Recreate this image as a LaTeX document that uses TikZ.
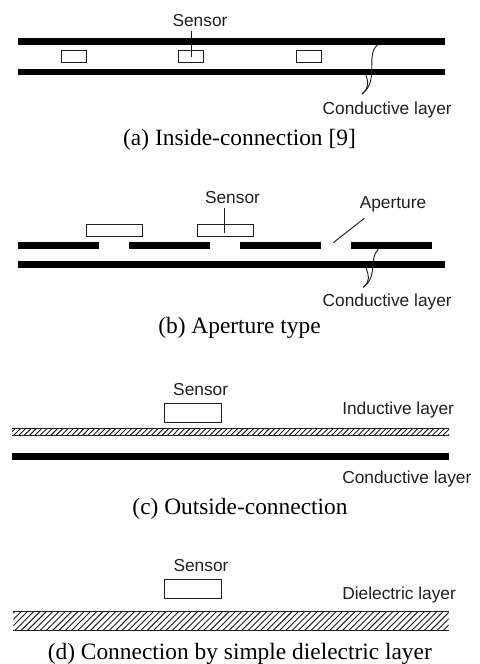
\documentclass[tikz,border=0pt]{standalone}
\usepackage{fontspec}
\setmainfont{Liberation Serif}
\newfontfamily\labelfont{Liberation Sans}
\definecolor{ink}{gray}{0.12}
\tikzset{
  x=0.75pt,y=-0.75pt,
  lab/.style={inner sep=0pt,text=ink,font=\labelfont\fontsize{13}{14}\selectfont},
  captiontext/.style={inner sep=0pt,text=black,font=\fontsize{17.55}{20}\selectfont},
  sensorbox/.style={draw=ink,line width=0.75pt,fill=white,inner sep=0pt,minimum width=#1},
  leader/.style={draw=ink,line width=0.7pt},
  bar/.style={fill=black,draw=none},
  edgeline/.style={draw=ink,line width=0.7pt},
  hatchline/.style={draw=ink,line width=0.7pt}
}
\begin{document}
\begin{tikzpicture}
\useasboundingbox (0,0) rectangle (479,664);
% ---------- (a)
\node[lab] (sa) at (200,20.5) {Sensor};
\node[lab] (ca) at (387.2,110) {Conductive layer};
\node[captiontext] (capa) at (239.5,139.5) {(a) Inside-connection [9]};
\node[sensorbox=19.05pt,minimum height=9.3pt] (a1) at (74,56.5) {};
\node[sensorbox=19.05pt,minimum height=9.3pt] (a2) at (191,56.5) {};
\node[sensorbox=19.05pt,minimum height=9.3pt] (a3) at (308.7,56.5) {};
\coordinate (a2c) at (191,56.5);
\draw[leader] (sa.south -| a2c) ++(0,4) -- (a2c);
\fill[bar] (18,38) rectangle (445,44.7);
\fill[bar] (18,68.7) rectangle (445,75);
\draw[leader] (377.5,45) .. controls (371,50) and (372,60) .. (371.7,70) .. controls (371.5,80) and (370,88) .. (362,94);
\draw[leader] (366,75) .. controls (368,82) and (370,87) .. (362,94);
% ---------- (b)
\node[lab] (sb) at (232.5,197.3) {Sensor};
\node[lab] (ap) at (393,204.5) {Aperture};
\node[lab] (cb) at (387.2,302.5) {Conductive layer};
\node[captiontext] (capb) at (239.5,327.5) {(b) Aperture type};
\node[sensorbox=42pt,minimum height=9.3pt] (b1) at (114.3,230.5) {};
\node[sensorbox=42pt,minimum height=9.3pt] (b2) at (225.2,230.5) {};
\coordinate (b2c) at (224,232.7);
\coordinate (apa) at (364.3,218.3);
\coordinate (apb) at (333.3,242.7);
\draw[leader] (sb.south -| b2c) ++(0,4) -- (b2c);
\draw[leader] (apa) -- (apb);
\fill[bar] (18,242) rectangle (99,249.3);
\fill[bar] (129,242) rectangle (210,249.3);
\fill[bar] (240,242) rectangle (321,249.3);
\fill[bar] (351,242) rectangle (432,249.3);
\fill[bar] (18,260.7) rectangle (445,268);
\draw[leader] (378.3,249.3) .. controls (373,254) and (373.5,262) .. (372.7,267) .. controls (372.3,275) and (371,281) .. (363.3,287.3);
\draw[leader] (366,268) .. controls (368.5,275) and (371,281) .. (363.3,287.3);
% ---------- (c)
\node[lab] (sc) at (200.7,389.3) {Sensor};
\node[lab,anchor=west] (ic) at (342,410) {Inductive layer};
\node[lab,anchor=west] (cc) at (342,479) {Conductive layer};
\node[captiontext] (capc) at (240,508.5) {(c) Outside-connection};
\node[sensorbox=43pt,minimum height=14.5pt] (c1) at (193,412.7) {};
\begin{scope}
\clip (12,428.5) rectangle (449,435);
\foreach \i in {-1,...,84} \draw[hatchline] (12+\i*5.3,437) -- (12+\i*5.3+11,426);
\end{scope}
\draw[edgeline] (12,428.5) -- (449,428.5);
\draw[edgeline] (12,435) -- (449,435);
\fill[bar] (12,453) rectangle (449,460.3);
% ---------- (d)
\node[lab] (sd) at (201,566) {Sensor};
\node[lab,anchor=west] (dd) at (342,595) {Dielectric layer};
\node[captiontext] (capd) at (239.8,654) {(d) Connection by simple dielectric layer};
\node[sensorbox=43pt,minimum height=14.5pt] (d1) at (193,589.3) {};
\begin{scope}
\clip (13.3,611.5) rectangle (448.7,630);
\foreach \i in {-4,...,72} \draw[hatchline] (13.3+\i*6.3,632) -- (13.3+\i*6.3+23,609);
\end{scope}
\draw[edgeline] (13.3,611.5) -- (448.7,611.5);
\draw[edgeline] (13.3,630) -- (448.7,630);
\end{tikzpicture}
\end{document}
